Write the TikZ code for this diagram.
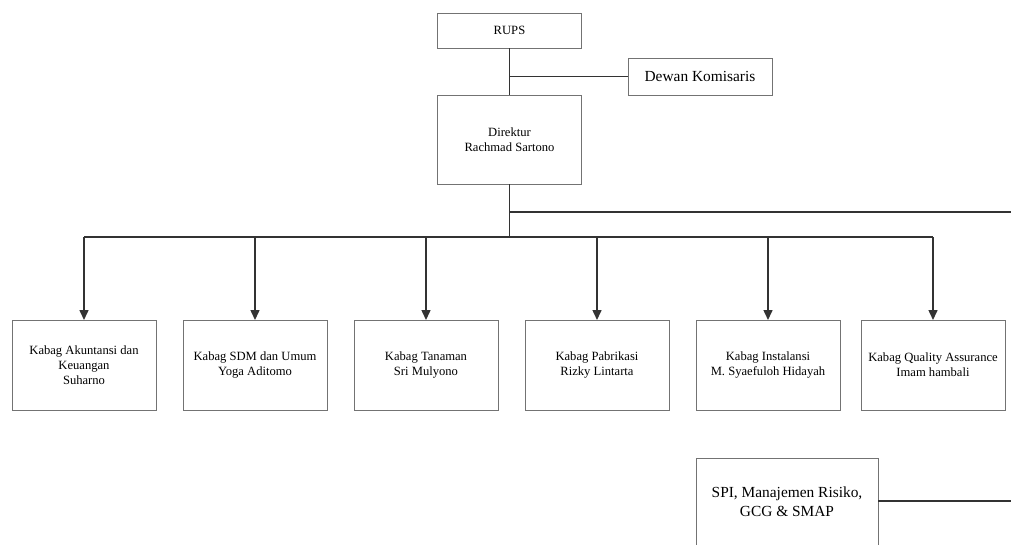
\documentclass[tikz,border=0pt]{standalone}
\usepackage{fontspec}
\setmainfont{Liberation Serif}
\usetikzlibrary{arrows.meta, positioning}
\tikzstyle{box} = [rectangle, draw=black!55, line width=0.9pt, minimum width=144pt, minimum height=90pt, inner sep=0pt, outer sep=0pt, align=center, font=\fontsize{12.6}{15}\selectfont]
\tikzstyle{bigbox} = [box, font=\fontsize{15.4}{19}\selectfont]
\tikzstyle{line} = [draw=black!80, line width=1.5pt]
\tikzstyle{arrow} = [line, -{Triangle[length=10pt,width=9pt]}]

\begin{document}
\begin{tikzpicture}[x=1pt, y=-1pt]
    \useasboundingbox (0,0) rectangle (1011,544);
    \clip (0,0) rectangle (1011,544);
    % Nodes
    \node (rups) [box, minimum height=35pt] at (509.5,30.5) {RUPS};
    \node (dewan) [bigbox, minimum height=37pt] at (700,76.5) {Dewan Komisaris};
    \node (direktur) [box, minimum height=89pt] at (509.5,139.5) {Direktur\\Rachmad Sartono};

    \node (akuntansi) [box] at (84,365) {Kabag Akuntansi dan\\Keuangan\\Suharno};
    \node (sdm) [box, right=27pt of akuntansi] {Kabag SDM dan Umum\\Yoga Aditomo};
    \node (tanaman) [box, right=27pt of sdm] {Kabag Tanaman\\Sri Mulyono};
    \node (pabrikasi) [box, right=27pt of tanaman] {Kabag Pabrikasi\\Rizky Lintarta};
    \node (instalansi) [box, right=27pt of pabrikasi] {Kabag Instalansi\\M. Syaefuloh Hidayah};
    \node (qa) [box, right=21pt of instalansi] {Kabag Quality Assurance\\Imam hambali};

    \node (spi) [bigbox, minimum width=182pt, minimum height=88pt] at (787,502) {SPI, Manajemen Risiko,\\GCG \& SMAP};

    \coordinate [below=53pt of direktur.south] (busmid);
    \coordinate [below=28pt of direktur.south] (staff);
    \coordinate (staffend) at (1011,212);
    \coordinate (spiend) at (1011,501);

    % Arrows
    \draw [line] (rups) -- (direktur);
    \draw [line] (rups.south |- dewan.west) -- (dewan.west);
    \draw [line] (direktur) -- (busmid);
    \draw [line] (staff) -- (staffend);
    \draw [line] (akuntansi.north |- busmid) -- (qa.north |- busmid);
    \foreach \n in {akuntansi,sdm,tanaman,pabrikasi,instalansi,qa}
        \draw [arrow] (\n.north |- busmid) -- (\n.north);
    \draw [line] (spi.east |- spiend) -- (spiend);
\end{tikzpicture}
\end{document}
